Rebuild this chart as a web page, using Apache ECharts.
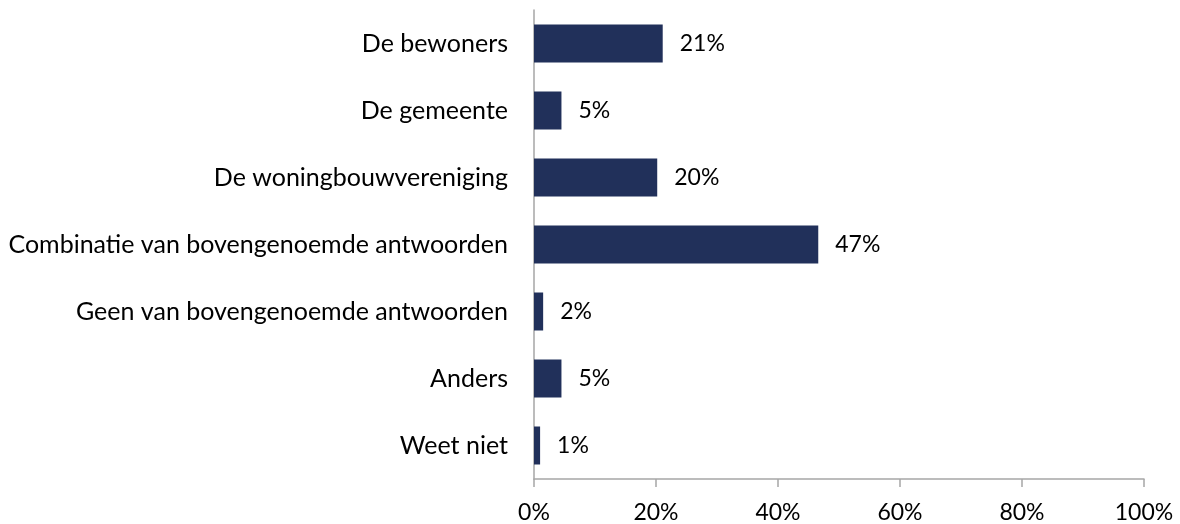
<!DOCTYPE html>
<html>
<head>
<meta charset="utf-8">
<script src="https://cdn.jsdelivr.net/npm/echarts@6/dist/echarts.min.js"></script>
<style>
html,body{margin:0;padding:0;background:#fff;}
#chart{width:1180px;height:524px;}
</style>
</head>
<body>
<div id="chart"></div>
<script>
const categories = [
  "De bewoners",
  "De gemeente",
  "De woningbouwvereniging",
  "Combinatie van bovengenoemde antwoorden",
  "Geen van bovengenoemde antwoorden",
  "Anders",
  "Weet niet"
];
const values = [21.1, 4.5, 20.2, 46.6, 1.5, 4.5, 1.0];
const xTicks = [0, 20, 40, 60, 80, 100];

const FONT = "Lato, 'Open Sans', sans-serif";
const chart = echarts.init(document.getElementById('chart'), null, {renderer: 'canvas'});
chart.setOption({
  animation: false,
  backgroundColor: '#ffffff',
  grid: {left: 534, right: 36, top: 10, bottom: 45, containLabel: false},
  xAxis: {
    type: 'value',
    min: xTicks[0],
    max: xTicks[xTicks.length - 1],
    interval: xTicks[1] - xTicks[0],
    axisLine: {show: true, lineStyle: {color: '#a6a6a6', width: 1.5}},
    axisTick: {show: true, length: 8, lineStyle: {color: '#a6a6a6', width: 1.5}},
    splitLine: {show: false},
    axisLabel: {
      formatter: v => v + '%',
      fontFamily: FONT, fontSize: 23, color: '#000', margin: 22
    }
  },
  yAxis: {
    type: 'category',
    data: categories,
    inverse: true,
    axisLine: {show: true, lineStyle: {color: '#a6a6a6', width: 1.5}},
    axisTick: {show: false},
    axisLabel: {fontFamily: FONT, fontSize: 25, color: '#000', margin: 26}
  },
  series: [{
    type: 'bar',
    data: values,
    barWidth: 38,
    itemStyle: {color: '#21305A'},
    label: {
      show: true,
      position: 'right',
      distance: 17,
      formatter: p => Math.round(p.value) + '%',
      fontFamily: FONT, fontSize: 23, color: '#000'
    }
  }]
});
</script>
</body>
</html>
